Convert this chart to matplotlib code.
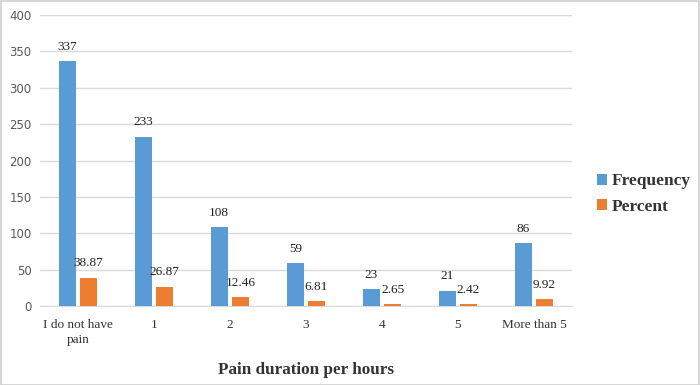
import numpy as np
import matplotlib.pyplot as plt
from matplotlib.patches import Rectangle

categories = ["I do not have\npain", "1", "2", "3", "4", "5", "More than 5"]
frequency = [337, 233, 108, 59, 23, 21, 86]
percent = [38.87, 26.87, 12.46, 6.81, 2.65, 2.42, 9.92]
freq_labels = ["337", "233", "108", "59", "23", "21", "86"]
pct_labels = ["38.87", "26.87", "12.46", "6.81", "2.65", "2.42", "9.92"]

BLUE = "#5B9BD5"
ORANGE = "#ED7D31"
SERIF = "Liberation Serif"

fig = plt.figure(figsize=(7, 3.85), dpi=100)
fig.add_artist(Rectangle((0.001, 0.001), 0.997, 0.996, transform=fig.transFigure,
                         fill=False, edgecolor="#d0d0d0", linewidth=1.2))
ax = fig.add_axes([0.057, 0.205, 0.76, 0.756])

x = np.arange(len(categories))
w = 0.22
off = 0.14
b1 = ax.bar(x - off, frequency, w, color=BLUE, label="Frequency", zorder=3)
b2 = ax.bar(x + off, percent, w, color=ORANGE, label="Percent", zorder=3)

for rect, lab in zip(b1, freq_labels):
    ax.annotate(lab, (rect.get_x() + rect.get_width() / 2, rect.get_height()),
                xytext=(0, 6), textcoords="offset points", ha="center", va="bottom",
                fontsize=9.5, family=SERIF, color="#222222")
for rect, lab in zip(b2, pct_labels):
    ax.annotate(lab, (rect.get_x() + rect.get_width() / 2, rect.get_height()),
                xytext=(0, 6), textcoords="offset points", ha="center", va="bottom",
                fontsize=9.5, family=SERIF, color="#222222")

ax.set_xlim(-0.5, len(categories) - 0.5)
ax.set_ylim(0, 400)
ax.set_yticks(range(0, 401, 50))
ax.yaxis.grid(True, color="#d9d9d9", linewidth=1, zorder=0)
ax.set_axisbelow(True)
for s in ["top", "right", "left"]:
    ax.spines[s].set_visible(False)
ax.spines["bottom"].set_color("#d9d9d9")
ax.tick_params(length=0)
ax.tick_params(axis="y", labelsize=8.5, labelcolor="#595959", pad=6)
ax.set_xticks(x)
ax.set_xticklabels(categories, fontsize=9.5, family=SERIF, color="#333333",
                   linespacing=1.35)
ax.tick_params(axis="x", pad=9)

ax.set_xlabel("Pain duration per hours", fontsize=12.3, family=SERIF,
              fontweight="bold", color="#333333", labelpad=12)

ax.legend(loc="center left", bbox_to_anchor=(1.017, 0.385), frameon=False,
          prop={"family": SERIF, "weight": "bold", "size": 12.5},
          handlelength=0.6, handleheight=0.6, handletextpad=0.3, labelspacing=0.55,
          labelcolor="#333333")

fig.savefig("out.png", dpi=100)
